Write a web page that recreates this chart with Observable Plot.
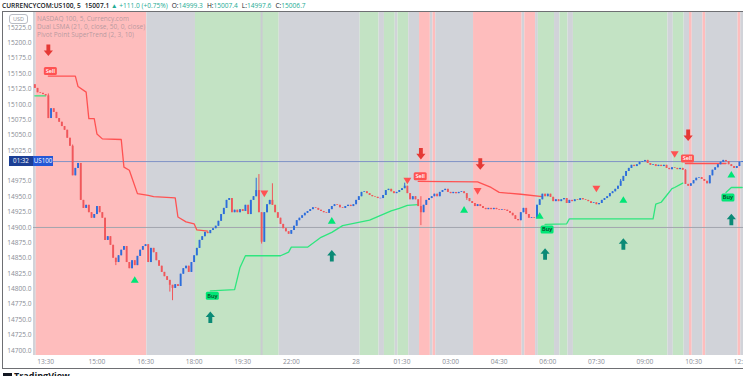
<!DOCTYPE html>
<html><head><meta charset="utf-8">
<script src="https://cdn.jsdelivr.net/npm/d3@7"></script>
<script src="https://cdn.jsdelivr.net/npm/@observablehq/plot@0.6"></script>
<style>
body{margin:0;background:#fff;font-family:"Open Sans",Roboto,sans-serif;}
#wrap{position:relative;width:743px;height:376px;overflow:hidden;background:#fff;}
#wrap svg{position:absolute;left:0;top:0;}
.ov{position:absolute;white-space:nowrap;}
#title{left:2px;top:1px;font-size:6.6px;color:#131722;font-weight:600;}
#title .g{color:#22ab94;font-weight:400;}
#title .k{font-weight:400;margin-left:4px;}
#title .m{margin-left:4px;}
#legend{left:37px;top:15px;font-size:6.5px;line-height:7.9px;color:rgba(120,123,134,0.55);}
#usd{left:9px;top:14px;width:17px;height:8px;border:1px solid #b9bcc4;border-radius:3px;font-size:5.5px;line-height:8px;text-align:center;color:#8f929b;background:#fff;}
#frame{left:2px;top:11px;width:760px;height:356px;border:1px solid #6e6f73;border-right:none;}
.tag{position:absolute;height:10px;font-size:6.2px;line-height:10px;color:#fff;text-align:center;}
#tv{left:3px;top:369px;font-size:9px;font-weight:700;color:#131722;}
</style></head><body><div id="wrap"></div><script>
// ---------- data ----------
const firstOpen = 15132;
const closes = [
15126,15119,15118,15116,15114,15077,15093,15087,15077,15071,
15064,15058,15045,15032,14984,14996,15004,14944,14931,14936,
14924,14915,14921,14934,14924,14915,14879,14885,14871,14850,
14843,14854,14863,14869,14843,14833,14846,14838,14853,14863,
14869,14872,14843,14866,14859,14846,14837,14827,14820,14814,
14806,14801,14807,14804,14824,14833,14837,14827,14843,14854,
14866,14879,14885,14892,14890,14895,14898,14902,14910,14921,
14931,14944,14947,14924,14928,14924,14929,14926,14936,14921,
14944,14950,14960,14924,14876,14924,14937,14944,14936,14924,
14915,14905,14898,14893,14889,14895,14902,14911,14915,14919,
14923,14926,14929,14932,14931,14928,14926,14924,14923,14929,
14934,14937,14936,14932,14931,14934,14936,14934,14937,14944,
14950,14957,14958,14955,14952,14950,14949,14947,14947,14952,
14960,14962,14958,14955,14957,14960,14963,14967,14955,14945,
14950,14945,14934,14924,14936,14944,14947,14950,14954,14950,
14957,14960,14962,14957,14955,14957,14955,14957,14958,14955,
14947,14942,14939,14934,14937,14934,14931,14929,14931,14929,
14931,14929,14928,14929,14928,14926,14923,14919,14913,14911,
14924,14931,14921,14915,14916,14915,14936,14945,14954,14950,
14954,14949,14942,14945,14942,14945,14947,14939,14944,14942,
14945,14944,14947,14945,14944,14942,14939,14940,14937,14939,
14944,14947,14950,14955,14958,14962,14967,14975,14983,14991,
14996,15001,14999,15002,15006,15007,15009,15004,15001,15002,
14999,15001,14999,15001,14996,14994,14997,14996,14994,14996,
14993,14970,14967,14971,14976,14980,14981,14978,14975,14971,
14984,14993,14997,15002,15006,15009,15007,15002,14999,14996,
14999,15006,15007];
const highWickBars = [5,14,82,83,88,137,143,217,241];
const highWickVals = [15117,15034,14980,14986,14971,14972,14950,14978,14994];
const lowWickBars = [30,50,51,84,143,186,160];
const lowWickVals = [14838,14795,14781,14873,14903,14914,14944];

const bandStart = [0,1,42,60,91,121,128,130,134,135,139,143,147,148,149,163,181,182,186,187,193,195,198,200,235,237,241,243,244,248,249,261,262];
const bandKind = ["flat","bear","flat","bull","flat","bull","flat","bull","flat","bull","flat","bear","flat","bear","flat","bear","flat","bear","flat","bull","flat","bull","flat","bull","flat","bull","flat","bear","flat","bear","flat","bear","flat"];
const barCount = 263;

const greenBars0 = [0,4], greenVals0 = [15114,15114];
const redBars1 = [5,15,16,19,20,22,23,25,32,33,35,38,42,44,52,53,56,59,60,64];
const redVals1 = [15146,15146,15129,15120,15077,15077,15052,15044,15043,14998,14993,14955,14952,14950,14948,14917,14909,14906,14896,14894];
const greenBars1 = [65,74,76,78,91,94,95,101,106,110,114,124,132,135,138,142];
const greenVals1 = [14797,14799,14835,14854,14854,14860,14868,14868,14884,14892,14903,14912,14927,14931,14936,14937];
const redBars2 = [142,164,169,172,180,188];
const redVals2 = [14975,14974,14965,14957,14954,14950];
const greenBars2 = [189,197,198,229,230,232,234,236,237,240];
const greenVals2 = [14905,14906,14914,14914,14938,14941,14952,14963,14965,14972];
const redBars3 = [241,256], redVals3 = [15004,15004];
const greenBars3 = [256,258,262], greenVals3 = [14957,14965,14965];

const sellBars = [5,142,241], sellVals = [15146,14975,15004];
const buyBars = [65,189,256], buyVals = [14797,14905,14957];
const pivotHighBars = [85,138,164,208,237], pivotHighVals = [14955,14976,14959,14963,15019];
const pivotLowBars = [37,110,159,187,218,258], pivotLowVals = [14815,14911,14929,14919,14945,14986];
const downArrowBars = [5,143,165,242], downArrowVals = [15188,15020,15003,15050];
const upArrowBars = [65,110,189,218,258], upArrowVals = [14754,14854,14857,14873,14913];

const hLineLevel = 14900;
const sessionBar = 84;
const lastPrice = 15007.1;
const tickBars = [4,23,41,59,77,95,119,136,154,172,190,208,226,244,262];
const tickLabels = ["13:30","15:00","16:30","18:00","19:30","22:00","28","01:30","03:00","04:30","06:00","07:30","09:00","10:30","12:00"];
// 15000.0 sits under the last-price tag in the reference, so it is not shown
const priceTicks = [14700,14725,14750,14775,14800,14825,14850,14875,14900,14925,14950,14975,15025,15050,15075,15100,15125,15150,15175,15200,15225];

// ---------- styles ----------
const bandColors = {bear:"#febdbd", bull:"#c3e3c4", flat:"#d1d3d9"};
const upColor = "#2d6ddb", downColor = "#f0575b";
const stRed = "#ff5252", stGreen = "#2ee67e";

// ---------- build ----------
const candles = closes.map((c,i)=>{
  const o = i===0 ? firstOpen : closes[i-1];
  let hi = Math.max(o,c), lo = Math.min(o,c);
  const hb = highWickBars.indexOf(i); if (hb>=0) hi = Math.max(hi, highWickVals[hb]);
  const lb = lowWickBars.indexOf(i); if (lb>=0) lo = Math.min(lo, lowWickVals[lb]);
  let bHi = Math.max(o,c), bLo = Math.min(o,c);
  if (bHi - bLo < 0.8) { bHi += 0.4; bLo -= 0.4; }
  return {i, o, c, hi, lo, bHi, bLo, up: c >= o};
});
const bands = bandStart.map((s,k)=>({s, e: k+1<bandStart.length ? bandStart[k+1] : barCount, kind: bandKind[k]}));
const pts = (bars, vals) => bars.map((b,k)=>({bar:b, val:vals[k]}));
const segs = [
  [greenBars0, greenVals0, stGreen],[redBars1, redVals1, stRed],[greenBars1, greenVals1, stGreen],
  [redBars2, redVals2, stRed],[greenBars2, greenVals2, stGreen],[redBars3, redVals3, stRed],[greenBars3, greenVals3, stGreen]
];

const arrowUp = {draw(ctx, size){ const r = Math.sqrt(size/Math.PI);
  ctx.moveTo(0,-1.25*r); ctx.lineTo(r,-0.05*r); ctx.lineTo(0.42*r,-0.05*r); ctx.lineTo(0.42*r,1.25*r);
  ctx.lineTo(-0.42*r,1.25*r); ctx.lineTo(-0.42*r,-0.05*r); ctx.lineTo(-r,-0.05*r); ctx.closePath(); }};
const arrowDown = {draw(ctx, size){ const r = Math.sqrt(size/Math.PI);
  ctx.moveTo(0,1.25*r); ctx.lineTo(r,0.05*r); ctx.lineTo(0.42*r,0.05*r); ctx.lineTo(0.42*r,-1.25*r);
  ctx.lineTo(-0.42*r,-1.25*r); ctx.lineTo(-0.42*r,0.05*r); ctx.lineTo(-r,0.05*r); ctx.closePath(); }};
const triUp = {draw(ctx, size){ const r = Math.sqrt(size/Math.PI);
  ctx.moveTo(0,-r); ctx.lineTo(1.1*r,0.85*r); ctx.lineTo(-1.1*r,0.85*r); ctx.closePath(); }};
const triDown = {draw(ctx, size){ const r = Math.sqrt(size/Math.PI);
  ctx.moveTo(0,r); ctx.lineTo(1.1*r,-0.85*r); ctx.lineTo(-1.1*r,-0.85*r); ctx.closePath(); }};
const labelBox = {draw(ctx){ const w=6.5,h=4,rr=1.5;
  ctx.moveTo(-w+rr,-h); ctx.lineTo(w-rr,-h); ctx.quadraticCurveTo(w,-h,w,-h+rr); ctx.lineTo(w,h-rr);
  ctx.quadraticCurveTo(w,h,w-rr,h); ctx.lineTo(-w+rr,h); ctx.quadraticCurveTo(-w,h,-w,h-rr);
  ctx.lineTo(-w,-h+rr); ctx.quadraticCurveTo(-w,-h,-w+rr,-h); ctx.closePath(); }};

const chart = Plot.plot({
  width: 743, height: 376,
  marginLeft: 33, marginRight: 0, marginTop: 12, marginBottom: 21,
  x: {domain: [-0.5, barCount-0.5], axis: null},
  y: {domain: [14691.9, 15249.4], axis: null},
  style: {fontFamily: "'Open Sans', sans-serif", fontSize: "6.6px", color: "#8a8d96", background: "transparent", overflow: "hidden"},
  marks: [
    Plot.rect(bands, {x1: d=>d.s-0.5, x2: d=>d.e-0.5, fill: d=>bandColors[d.kind]}),
    Plot.ruleX([sessionBar], {stroke:"#c9cbd1", strokeWidth:2}),
    Plot.ruleY([hLineLevel], {stroke:"#a3a6ae", strokeWidth:1}),
    Plot.ruleY([lastPrice], {stroke:"#8193c6", strokeWidth:1}),
    ...segs.map(([b,v,col]) => Plot.line(pts(b,v), {x:"bar", y:"val", stroke: col, strokeWidth: 1.3})),
    Plot.ruleX(candles, {x:"i", y1:"lo", y2:"hi", stroke: d=>d.up?upColor:downColor, strokeWidth:1}),
    Plot.ruleX(candles, {x:"i", y1:"bLo", y2:"bHi", stroke: d=>d.up?upColor:downColor, strokeWidth:1.9}),
    Plot.dot(pts(pivotHighBars, pivotHighVals), {x:"bar", y:"val", symbol: triDown, r:3.6, fill:"#ff5252", stroke:"none"}),
    Plot.dot(pts(pivotLowBars, pivotLowVals), {x:"bar", y:"val", symbol: triUp, r:3.6, fill:"#00e676", stroke:"none"}),
    Plot.dot(pts(downArrowBars, downArrowVals), {x:"bar", y:"val", symbol: arrowDown, r:4.6, fill:"#e53935", stroke:"none"}),
    Plot.dot(pts(upArrowBars, upArrowVals), {x:"bar", y:"val", symbol: arrowUp, r:4.6, fill:"#0b8a76", stroke:"none"}),
    Plot.dot(pts(sellBars, sellVals), {x:"bar", y:"val", symbol: labelBox, r:4, dx:2, dy:-5, fill:"#ff5252", stroke:"none"}),
    Plot.text(pts(sellBars, sellVals), {x:"bar", y:"val", text: ()=>"Sell", dx:2, dy:-5, fill:"#fff", fontSize:5.6, fontWeight:600}),
    Plot.dot(pts(buyBars, buyVals), {x:"bar", y:"val", symbol: labelBox, r:4, dx:2, dy:5, fill:"#00e676", stroke:"none"}),
    Plot.text(pts(buyBars, buyVals), {x:"bar", y:"val", text: ()=>"Buy", dx:2, dy:5, fill:"#0c3b22", fontSize:5.6, fontWeight:600}),
    Plot.axisX({ticks: tickBars, tickFormat: d => tickLabels[tickBars.indexOf(d)], tickSize:0, tickPadding:4, anchor:"bottom"}),
    Plot.axisY({ticks: priceTicks, tickFormat: d => d.toFixed(1), tickSize:0, tickPadding:2, anchor:"left"})
  ]
});

const wrap = document.getElementById("wrap");
wrap.appendChild(chart);
const yPx = chart.scale("y").apply(lastPrice);

const add = (id, cls, html, css) => { const d = document.createElement("div"); if (id) d.id = id; d.className = cls; d.innerHTML = html; if (css) Object.assign(d.style, css); wrap.appendChild(d); return d; };
add("frame","ov","");
add("title","ov",'CURRENCYCOM:US100, 5<span class="m">15007.1</span> <span class="g">&#9650; +111.0 (+0.75%)</span><span class="k">O:</span><span class="g">14999.3</span><span class="k">H:</span><span class="g">15007.4</span><span class="k">L:</span><span class="g">14997.6</span><span class="k">C:</span><span class="g">15006.7</span>');
add("legend","ov","NASDAQ 100, 5, Currency.com<br>Dual LSMA (21, 0, close, 50, 0, close)<br>Pivot Point SuperTrend (2, 3, 10)");
add("usd","ov","USD");
add(null,"tag","01:32",{left:"9px",width:"24px",top:(yPx-5)+"px",background:"#1c3f95"});
add(null,"tag","US100",{left:"33px",width:"20px",top:(yPx-5)+"px",background:"#2457d6"});
add("tv","ov",'<span style="display:inline-block;width:9px;height:7px;background:#131722;vertical-align:-1px;margin-right:2px"></span>TradingView');
</script></body></html>
